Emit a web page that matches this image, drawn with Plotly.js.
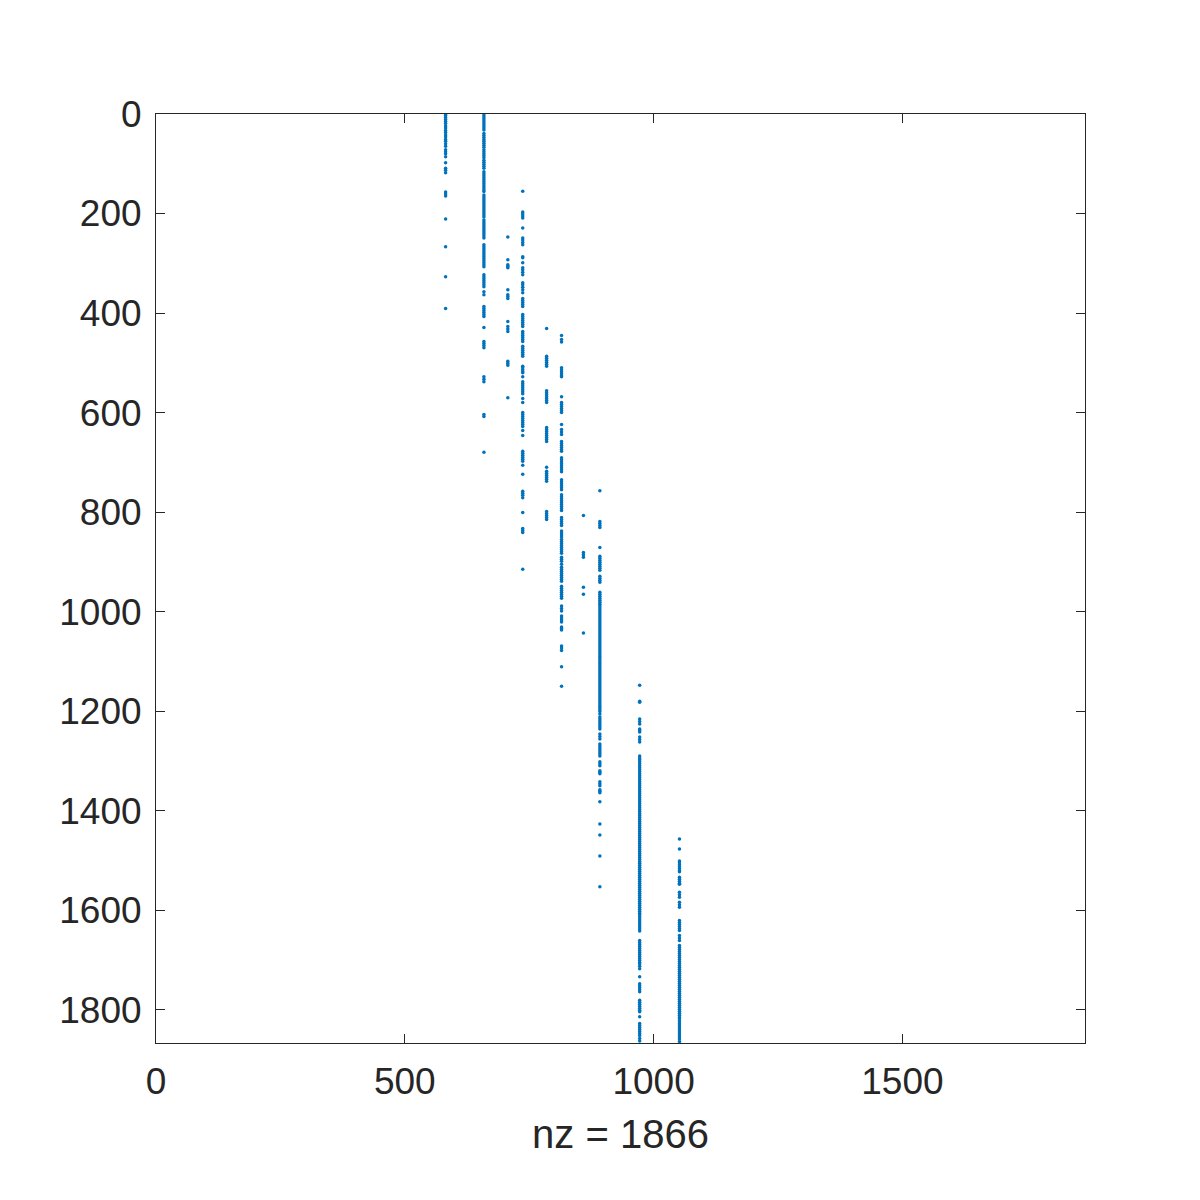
<!DOCTYPE html>
<html>
<head>
<meta charset="utf-8">
<script src="https://cdn.plot.ly/plotly-3.0.1.min.js"></script>
<style>html,body{margin:0;padding:0;background:#fff;}#chart{width:1200px;height:1200px;}</style>
</head>
<body>
<div id="chart"></div>
<script>
// Matrix size and nonzero count
const matrixSize = 1866;
const nnzCount = 1866;

// Column indices of the occupied columns
const columnIndex = [582, 659, 707, 737, 785, 815, 859, 892, 972, 1052];

// Row indices of nonzeros
const rowsA = [0,3,7,11,15,19,24,28,33,37,42,46,51,55,60,65,72,76,80,86,98,109,113,118,157,161,165,211,267,327,391];
const rowsB = [0,4,8,12,16,20,24,28,32,39,43,47,51,55,59,63,67,72,76,80,84,88,93,97,101,105,109,116,120,124,128,132,136,140,144,148,152,156,163,167,171,175,179,183,187,191,195,199,203,207,213,217,221,225,229,233,237,241,245,249,263,267,271,275,279,283,287,291,295,299,303,307,323,327,331,335,339,343,347,357,363,387,391,395,399,403,407,429,457,461,465,470,528,533,538,604,608,680];
const rowsC = [247,293,303,306,309,353,363,367,371,417,427,432,437,497,501,505,570];
const rowsD = [155,197,201,205,209,229,249,253,258,263,287,289,299,309,313,318,323,339,343,348,353,359,371,375,379,383,387,403,407,411,415,419,423,427,437,441,445,449,453,457,467,471,475,479,483,487,507,510,514,518,520,528,538,542,546,550,554,558,562,572,580,600,604,608,612,616,620,624,628,636,646,678,682,686,690,694,698,706,724,758,762,766,771,801,833,837,841,915];
const rowsE = [431,487,491,495,499,503,507,556,560,564,568,572,576,580,630,634,638,642,646,650,654,658,710,718,722,726,730,734,738,799,803,807,811,815];
const rowsF = [445,453,458,510,514,518,522,526,528,568,580,584,588,592,596,600,624,634,639,644,658,662,666,670,674,678,691,695,699,703,707,711,715,719,735,739,743,747,751,755,765,769,773,777,781,785,789,793,797,811,815,819,823,827,838,842,846,850,855,859,863,867,871,875,879,883,891,895,899,905,911,915,919,923,927,931,935,939,949,953,957,961,965,969,973,989,994,999,1009,1013,1017,1021,1031,1034,1037,1069,1073,1078,1111,1150];
const rowsG = [807,881,886,891,951,965,1043];
const rowsH = [757,819,823,827,831,871,889,893,897,901,905,909,913,917,929,933,937,941,961,965,969,973,977,981,985,989,993,997,1001,1005,1009,1013,1017,1021,1025,1029,1033,1037,1041,1045,1049,1053,1057,1061,1065,1069,1073,1077,1081,1085,1089,1093,1097,1101,1105,1109,1113,1117,1121,1125,1129,1133,1137,1141,1145,1149,1153,1157,1161,1165,1169,1173,1177,1181,1185,1189,1193,1197,1201,1206,1212,1216,1220,1224,1228,1232,1236,1246,1251,1256,1266,1270,1274,1278,1282,1286,1290,1302,1306,1310,1320,1323,1326,1342,1346,1350,1358,1361,1364,1382,1427,1449,1491,1553];
const rowsI = [1148,1180,1182,1216,1221,1226,1236,1239,1242,1252,1257,1262,1290,1294,1298,1302,1306,1310,1314,1318,1322,1326,1330,1334,1338,1342,1346,1350,1354,1358,1362,1366,1370,1374,1378,1382,1386,1390,1394,1398,1402,1406,1410,1414,1418,1422,1426,1430,1434,1438,1442,1446,1450,1454,1458,1462,1466,1470,1474,1478,1482,1486,1490,1494,1498,1502,1506,1510,1514,1518,1522,1526,1530,1534,1538,1542,1546,1550,1554,1558,1562,1566,1570,1574,1578,1582,1586,1590,1594,1598,1602,1606,1610,1614,1618,1622,1626,1630,1634,1638,1642,1661,1665,1669,1673,1677,1681,1685,1689,1693,1697,1701,1705,1708,1713,1718,1734,1748,1752,1756,1760,1764,1781,1785,1789,1793,1797,1801,1804,1814,1828,1832,1836,1840,1844,1848,1852,1858,1863];
const rowsJ = [1457,1477,1501,1505,1509,1513,1517,1521,1523,1534,1538,1542,1546,1548,1564,1569,1574,1584,1589,1594,1621,1625,1629,1633,1637,1641,1651,1656,1661,1671,1675,1679,1683,1687,1691,1695,1699,1703,1707,1711,1715,1719,1723,1727,1731,1735,1739,1743,1747,1751,1755,1759,1763,1767,1771,1775,1779,1783,1787,1791,1795,1799,1803,1807,1811,1815,1819,1823,1827,1831,1835,1839,1843,1847,1851,1855,1859,1864];

const rowSets = [rowsA, rowsB, rowsC, rowsD, rowsE, rowsF, rowsG, rowsH, rowsI, rowsJ];

const xs = [], ys = [];
rowSets.forEach((rows, i) => {
  rows.forEach(r => { xs.push(columnIndex[i]); ys.push(r); });
});

const fontFamily = '"Liberation Sans", Arial, sans-serif';
const textColor = '#262626';

const trace = {
  type: 'scatter',
  mode: 'markers',
  x: xs,
  y: ys,
  marker: {color: '#0072BD', size: 3.5, symbol: 'circle', line: {width: 0}},
  hoverinfo: 'x+y',
  showlegend: false
};

const layout = {
  width: 1200,
  height: 1200,
  paper_bgcolor: '#ffffff',
  plot_bgcolor: '#ffffff',
  margin: {l: 156, r: 115, t: 114, b: 157, pad: 0},
  font: {family: fontFamily, color: textColor, size: 37},
  xaxis: {
    range: [0, matrixSize + 1],
    tickvals: [0, 500, 1000, 1500],
    ticktext: ['0', '500', '1000', '1500'],
    ticks: 'inside',
    ticklen: 9,
    tickwidth: 1,
    tickcolor: textColor,
    showline: true,
    linecolor: textColor,
    linewidth: 1,
    mirror: 'ticks',
    showgrid: false,
    zeroline: false,
    tickfont: {family: fontFamily, size: 37, color: textColor},
    ticklabelstandoff: 6,
    title: {text: 'nz = ' + nnzCount, font: {family: fontFamily, size: 40, color: textColor}, standoff: 18}
  },
  yaxis: {
    range: [matrixSize + 1, 0],
    tickvals: [0, 200, 400, 600, 800, 1000, 1200, 1400, 1600, 1800],
    ticks: 'inside',
    ticklen: 9,
    tickwidth: 1,
    tickcolor: textColor,
    showline: true,
    linecolor: textColor,
    linewidth: 1,
    mirror: 'ticks',
    showgrid: false,
    zeroline: false,
    tickfont: {family: fontFamily, size: 37, color: textColor},
    ticklabelstandoff: 6
  }
};

Plotly.newPlot('chart', [trace], layout, {staticPlot: true, displayModeBar: false});
</script>
</body>
</html>
